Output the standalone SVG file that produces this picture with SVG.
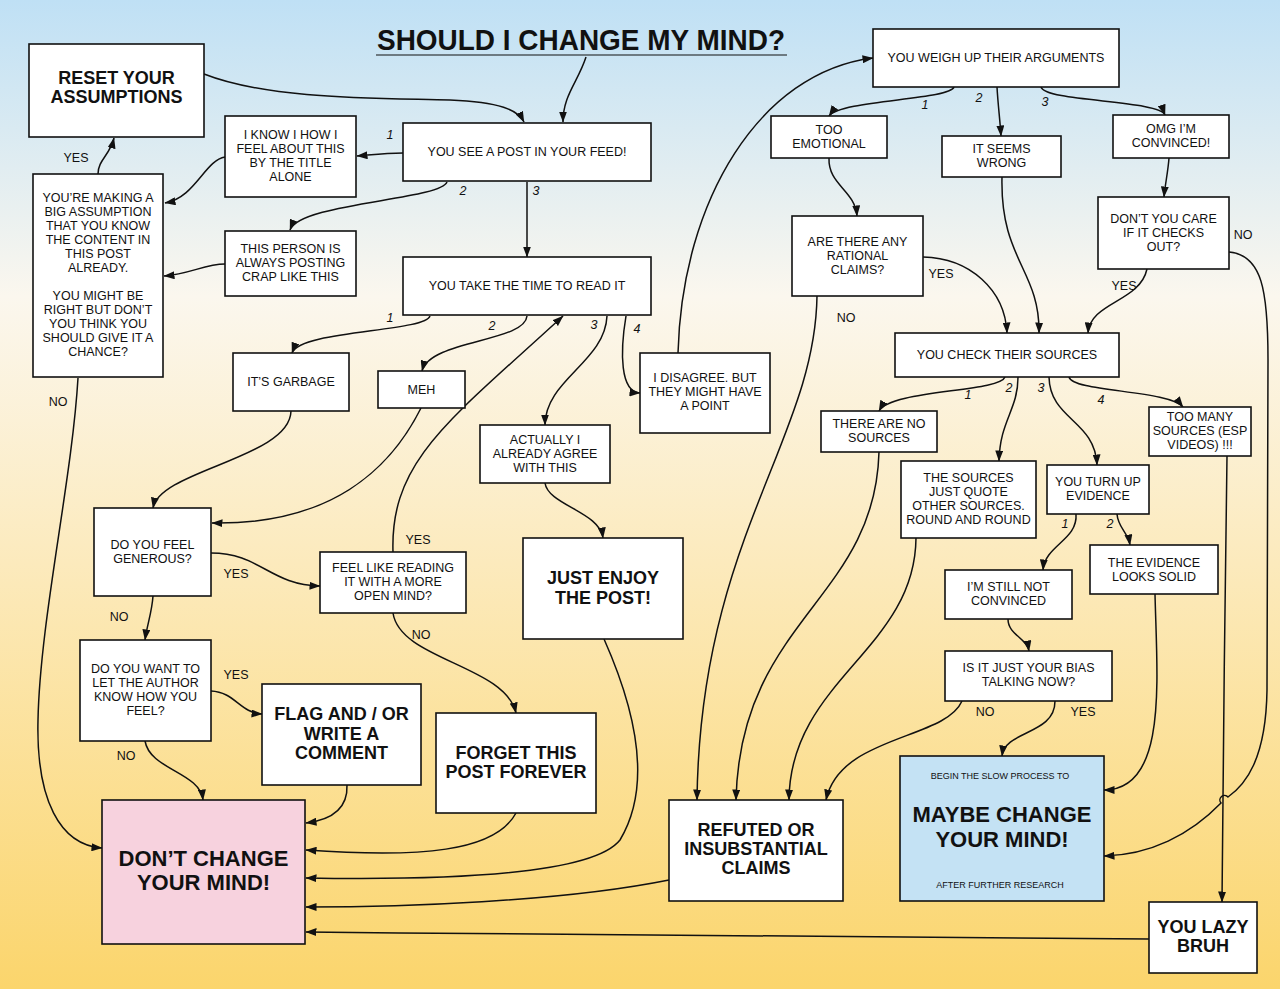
<svg xmlns="http://www.w3.org/2000/svg" width="1280" height="989" viewBox="0 0 1280 989">
<defs>
<linearGradient id="bg" x1="0" y1="0" x2="0" y2="1">
<stop offset="0" stop-color="#bfe0f5"/>
<stop offset="0.3" stop-color="#fbf7ee"/>
<stop offset="0.55" stop-color="#fcebc0"/>
<stop offset="1" stop-color="#fbd56c"/>
</linearGradient>
<marker id="ah" viewBox="0 0 11 8" refX="10.5" refY="4" markerWidth="11" markerHeight="8" markerUnits="userSpaceOnUse" orient="auto">
<path d="M0,0 L11,4 L0,8 Z" fill="#111"/>
</marker>
<style>
.box{fill:#fff;stroke:#111;stroke-width:1.6}
.t{font-family:"Liberation Sans",Arial,sans-serif;font-size:12.5px;fill:#111;text-anchor:middle}
.b{font-family:"Liberation Sans",Arial,sans-serif;font-size:18px;fill:#111;text-anchor:middle;font-weight:bold}
.xl{font-family:"Liberation Sans",Arial,sans-serif;font-size:22px;fill:#111;text-anchor:middle;font-weight:bold}
.s{font-family:"Liberation Sans",Arial,sans-serif;font-size:9px;fill:#111;text-anchor:middle}
.lbl{font-family:"Liberation Sans",Arial,sans-serif;font-size:12.5px;fill:#111;text-anchor:middle}
.num{font-family:"Liberation Sans",Arial,sans-serif;font-size:12.5px;fill:#111;text-anchor:middle;font-style:italic}
.c{fill:none;stroke:#111;stroke-width:1.5;marker-end:url(#ah)}
</style>
</defs>
<rect x="0" y="0" width="1280" height="989" fill="url(#bg)"/>

<g id="title">
<text x="581" y="50" font-family="Liberation Sans,Arial,sans-serif" font-size="30" font-weight="bold" text-anchor="middle" fill="#111" textLength="408" lengthAdjust="spacingAndGlyphs">SHOULD I CHANGE MY MIND?</text>
<line x1="376" y1="55" x2="787" y2="55" stroke="#111" stroke-width="1.2"/>
</g>

<g id="connectors">
<path class="c" d="M204,74 C270,100 380,98 450,100 C500,102 518,110 524,122"/>
<path class="c" d="M586,57 C578,82 563,95 563,122"/>
<path class="c" d="M403,153 C385,153 370,155 357,156"/>
<path class="c" d="M225,157 C205,160 195,198 165,203"/>
<path class="c" d="M447,182 C440,200 300,203 290,230"/>
<path class="c" d="M225,264 C205,264 190,274 164,276"/>
<path class="c" d="M527,182 L527,257"/>
<path class="c" d="M98,174 C98,160 110,155 114,138"/>
<path class="c" d="M78,378 C72,480 40,620 38,720 C36,800 60,845 102,848"/>
<path class="c" d="M430,316 C425,332 300,330 292,353"/>
<path class="c" d="M527,316 C525,342 430,340 422,371"/>
<path class="c" d="M393,552 C390,460 450,420 563,316"/>
<path class="c" d="M607,316 C605,362 545,380 545,425"/>
<path class="c" d="M626,316 C620,352 620,392 640,393"/>
<path class="c" d="M678,353 C682,200 760,72 873,58"/>
<path class="c" d="M291,411 C290,458 160,470 153,508"/>
<path class="c" d="M421,408 C390,470 330,525 212,523"/>
<path class="c" d="M211,553 C260,553 270,585 320,586"/>
<path class="c" d="M153,596 C152,612 147,625 145,640"/>
<path class="c" d="M545,483 C548,505 600,512 603,538"/>
<path class="c" d="M393,613 C400,660 505,665 516,713"/>
<path class="c" d="M211,691 C235,692 240,713 262,714"/>
<path class="c" d="M145,741 C150,770 200,772 203,800"/>
<path class="c" d="M347,785 C348,810 330,820 306,823"/>
<path class="c" d="M516,813 C495,852 420,858 306,850"/>
<path class="c" d="M604,639 C640,720 650,790 620,840 C590,878 420,880 306,878"/>
<path class="c" d="M669,880 C560,902 400,907 306,907"/>
<path class="c" d="M1149,939 C900,937 600,935 306,932"/>
<path class="c" d="M954,87 C950,100 840,100 829,116"/>
<path class="c" d="M997,87 C998,105 1000,120 1001,136"/>
<path class="c" d="M1041,87 C1045,102 1160,100 1165,115"/>
<path class="c" d="M829,158 C828,185 855,190 857,216"/>
<path class="c" d="M1002,177 C1000,260 1040,270 1039,333"/>
<path class="c" d="M923,257 C970,258 1005,290 1007,333"/>
<path class="c" d="M817,296 C815,440 700,540 697,800"/>
<path class="c" d="M1169,158 C1168,172 1165,185 1164,197"/>
<path class="c" d="M1147,269 C1140,302 1090,302 1088,333"/>
<path class="c" d="M1229,252 C1262,255 1268,290 1268,360 L1267,690 C1266,760 1245,785 1228,797 A4,4 0 0 0 1221,803 C1190,835 1150,855 1104,856"/>
<path class="c" d="M1005,377 C1000,392 890,390 879,411"/>
<path class="c" d="M1018,377 C1018,410 1000,420 999,461"/>
<path class="c" d="M1049,377 C1050,420 1095,420 1097,465"/>
<path class="c" d="M1069,377 C1072,392 1170,390 1183,407"/>
<path class="c" d="M879,452 C875,600 740,620 736,800"/>
<path class="c" d="M916,538 C915,650 790,680 789,800"/>
<path class="c" d="M962,701 C945,740 840,735 826,800"/>
<path class="c" d="M1076,514 C1078,540 1045,545 1043,570"/>
<path class="c" d="M1117,514 C1118,528 1128,532 1130,545"/>
<path class="c" d="M1008,619 C1008,635 1027,638 1029,651"/>
<path class="c" d="M1055,701 C1055,735 1005,730 1002,756"/>
<path class="c" d="M1155,594 C1157,680 1168,790 1104,790"/>
<path class="c" d="M1227,456 C1225,600 1223,760 1222,902"/>
</g>

<g id="edge-labels">
<text class="num" x="390" y="139">1</text>
<text class="num" x="463" y="195">2</text>
<text class="num" x="536" y="195">3</text>
<text class="lbl" x="76" y="162">YES</text>
<text class="lbl" x="58" y="406">NO</text>
<text class="num" x="390" y="322">1</text>
<text class="num" x="492" y="330">2</text>
<text class="num" x="594" y="329">3</text>
<text class="num" x="637" y="333">4</text>
<text class="lbl" x="418" y="544">YES</text>
<text class="lbl" x="421" y="639">NO</text>
<text class="lbl" x="236" y="578">YES</text>
<text class="lbl" x="119" y="621">NO</text>
<text class="lbl" x="236" y="679">YES</text>
<text class="lbl" x="126" y="760">NO</text>
<text class="num" x="925" y="109">1</text>
<text class="num" x="979" y="102">2</text>
<text class="num" x="1045" y="106">3</text>
<text class="lbl" x="941" y="278">YES</text>
<text class="lbl" x="846" y="322">NO</text>
<text class="lbl" x="1243" y="239">NO</text>
<text class="lbl" x="1124" y="290">YES</text>
<text class="num" x="968" y="399">1</text>
<text class="num" x="1009" y="392">2</text>
<text class="num" x="1041" y="392">3</text>
<text class="num" x="1101" y="404">4</text>
<text class="num" x="1065" y="528">1</text>
<text class="num" x="1110" y="528">2</text>
<text class="lbl" x="985" y="716">NO</text>
<text class="lbl" x="1083" y="716">YES</text>
</g>

<g id="n-reset"><rect class="box" x="29" y="44" width="175" height="93"/>
<text class="b" x="116.5" y="84">RESET YOUR</text><text class="b" x="116.5" y="103">ASSUMPTIONS</text></g>

<g id="n-iknow"><rect class="box" x="225" y="116" width="131" height="81"/>
<text class="t" x="290.5" y="138.5">I KNOW I HOW I</text><text class="t" x="290.5" y="152.5">FEEL ABOUT THIS</text><text class="t" x="290.5" y="166.5">BY THE TITLE</text><text class="t" x="290.5" y="180.5">ALONE</text></g>

<g id="n-seepost"><rect class="box" x="403" y="123" width="248" height="58"/>
<text class="t" x="527" y="155.5">YOU SEE A POST IN YOUR FEED!</text></g>

<g id="n-assumption"><rect class="box" x="33" y="174" width="130" height="203"/>
<text class="t" x="98" y="201.5">YOU’RE MAKING A</text><text class="t" x="98" y="215.5">BIG ASSUMPTION</text><text class="t" x="98" y="229.5">THAT YOU KNOW</text><text class="t" x="98" y="243.5">THE CONTENT IN</text><text class="t" x="98" y="257.5">THIS POST</text><text class="t" x="98" y="271.5">ALREADY.</text>
<text class="t" x="98" y="299.5">YOU MIGHT BE</text><text class="t" x="98" y="313.5">RIGHT BUT DON’T</text><text class="t" x="98" y="327.5">YOU THINK YOU</text><text class="t" x="98" y="341.5">SHOULD GIVE IT A</text><text class="t" x="98" y="355.5">CHANCE?</text></g>

<g id="n-thisperson"><rect class="box" x="225" y="231" width="131" height="65"/>
<text class="t" x="290.5" y="252.5">THIS PERSON IS</text><text class="t" x="290.5" y="266.5">ALWAYS POSTING</text><text class="t" x="290.5" y="280.5">CRAP LIKE THIS</text></g>

<g id="n-read"><rect class="box" x="403" y="257" width="248" height="58"/>
<text class="t" x="527" y="289.5">YOU TAKE THE TIME TO READ IT</text></g>

<g id="n-garbage"><rect class="box" x="233" y="353" width="116" height="58"/>
<text class="t" x="291" y="385.5">IT’S GARBAGE</text></g>

<g id="n-meh"><rect class="box" x="378" y="371" width="87" height="37"/>
<text class="t" x="421.5" y="393.5">MEH</text></g>

<g id="n-disagree"><rect class="box" x="640" y="353" width="130" height="80"/>
<text class="t" x="705" y="381.5">I DISAGREE. BUT</text><text class="t" x="705" y="395.5">THEY MIGHT HAVE</text><text class="t" x="705" y="409.5">A POINT</text></g>

<g id="n-agree"><rect class="box" x="480" y="425" width="130" height="58"/>
<text class="t" x="545" y="443.5">ACTUALLY I</text><text class="t" x="545" y="457.5">ALREADY AGREE</text><text class="t" x="545" y="471.5">WITH THIS</text></g>

<g id="n-generous"><rect class="box" x="94" y="508" width="117" height="88"/>
<text class="t" x="152.5" y="548.5">DO YOU FEEL</text><text class="t" x="152.5" y="562.5">GENEROUS?</text></g>

<g id="n-openmind"><rect class="box" x="320" y="552" width="146" height="61"/>
<text class="t" x="393" y="571.5">FEEL LIKE READING</text><text class="t" x="393" y="585.5">IT WITH A MORE</text><text class="t" x="393" y="599.5">OPEN MIND?</text></g>

<g id="n-enjoy"><rect class="box" x="523" y="538" width="160" height="101"/>
<text class="b" x="603" y="583.5">JUST ENJOY</text><text class="b" x="603" y="603.5">THE POST!</text></g>

<g id="n-letauthor"><rect class="box" x="80" y="640" width="131" height="101"/>
<text class="t" x="145.5" y="672.5">DO YOU WANT TO</text><text class="t" x="145.5" y="686.5">LET THE AUTHOR</text><text class="t" x="145.5" y="700.5">KNOW HOW YOU</text><text class="t" x="145.5" y="714.5">FEEL?</text></g>

<g id="n-flag"><rect class="box" x="262" y="684" width="159" height="101"/>
<text class="b" x="341.5" y="719.5">FLAG AND / OR</text><text class="b" x="341.5" y="739.5">WRITE A</text><text class="b" x="341.5" y="758.5">COMMENT</text></g>

<g id="n-forget"><rect class="box" x="436" y="713" width="160" height="100"/>
<text class="b" x="516" y="758.5">FORGET THIS</text><text class="b" x="516" y="777.5">POST FOREVER</text></g>

<g id="n-dontchange"><rect x="102" y="800" width="203" height="144" fill="#f7d2de" stroke="#111" stroke-width="1.6"/>
<text class="xl" x="203.5" y="866">DON’T CHANGE</text><text class="xl" x="203.5" y="890">YOUR MIND!</text></g>

<g id="n-weigh"><rect class="box" x="873" y="29" width="246" height="58"/>
<text class="t" x="996" y="61.5">YOU WEIGH UP THEIR ARGUMENTS</text></g>

<g id="n-emotional"><rect class="box" x="771" y="116" width="116" height="42"/>
<text class="t" x="829" y="133.5">TOO</text><text class="t" x="829" y="147.5">EMOTIONAL</text></g>

<g id="n-wrong"><rect class="box" x="942" y="136" width="119" height="41"/>
<text class="t" x="1001.5" y="152.5">IT SEEMS</text><text class="t" x="1001.5" y="166.5">WRONG</text></g>

<g id="n-convinced"><rect class="box" x="1113" y="115" width="116" height="43"/>
<text class="t" x="1171" y="132.5">OMG I’M</text><text class="t" x="1171" y="146.5">CONVINCED!</text></g>

<g id="n-rational"><rect class="box" x="792" y="216" width="131" height="80"/>
<text class="t" x="857.5" y="245.5">ARE THERE ANY</text><text class="t" x="857.5" y="259.5">RATIONAL</text><text class="t" x="857.5" y="273.5">CLAIMS?</text></g>

<g id="n-care"><rect class="box" x="1098" y="197" width="131" height="72"/>
<text class="t" x="1163.5" y="222.5">DON’T YOU CARE</text><text class="t" x="1163.5" y="236.5">IF IT CHECKS</text><text class="t" x="1163.5" y="250.5">OUT?</text></g>

<g id="n-sources"><rect class="box" x="895" y="333" width="224" height="44"/>
<text class="t" x="1007" y="358.5">YOU CHECK THEIR SOURCES</text></g>

<g id="n-nosources"><rect class="box" x="821" y="411" width="116" height="41"/>
<text class="t" x="879" y="427.5">THERE ARE NO</text><text class="t" x="879" y="441.5">SOURCES</text></g>

<g id="n-quote"><rect class="box" x="901" y="461" width="135" height="77"/>
<text class="t" x="968.5" y="481.5">THE SOURCES</text><text class="t" x="968.5" y="495.5">JUST QUOTE</text><text class="t" x="968.5" y="509.5">OTHER SOURCES.</text><text class="t" x="968.5" y="523.5">ROUND AND ROUND</text></g>

<g id="n-evidence"><rect class="box" x="1047" y="465" width="102" height="49"/>
<text class="t" x="1098" y="485.5">YOU TURN UP</text><text class="t" x="1098" y="499.5">EVIDENCE</text></g>

<g id="n-toomany"><rect class="box" x="1149" y="407" width="102" height="49"/>
<text class="t" x="1200" y="420.5">TOO MANY</text><text class="t" x="1200" y="434.5">SOURCES (ESP</text><text class="t" x="1200" y="448.5">VIDEOS) !!!</text></g>

<g id="n-solid"><rect class="box" x="1090" y="545" width="128" height="49"/>
<text class="t" x="1154" y="566.5">THE EVIDENCE</text><text class="t" x="1154" y="580.5">LOOKS SOLID</text></g>

<g id="n-notconvinced"><rect class="box" x="945" y="570" width="127" height="49"/>
<text class="t" x="1008.5" y="590.5">I’M STILL NOT</text><text class="t" x="1008.5" y="604.5">CONVINCED</text></g>

<g id="n-bias"><rect class="box" x="945" y="651" width="167" height="50"/>
<text class="t" x="1028.5" y="671.5">IS IT JUST YOUR BIAS</text><text class="t" x="1028.5" y="685.5">TALKING NOW?</text></g>

<g id="n-refuted"><rect class="box" x="669" y="800" width="174" height="101"/>
<text class="b" x="756" y="835.5">REFUTED OR</text><text class="b" x="756" y="854.5">INSUBSTANTIAL</text><text class="b" x="756" y="873.5">CLAIMS</text></g>

<g id="n-maybe"><rect x="900" y="756" width="204" height="145" fill="#c4e2f4" stroke="#111" stroke-width="1.6"/>
<text class="s" x="1000" y="779">BEGIN THE SLOW PROCESS TO</text>
<text class="xl" x="1002" y="822">MAYBE CHANGE</text><text class="xl" x="1002" y="847">YOUR MIND!</text>
<text class="s" x="1000" y="888">AFTER FURTHER RESEARCH</text></g>

<g id="n-lazy"><rect class="box" x="1149" y="902" width="108" height="71"/>
<text class="b" x="1203" y="932.5">YOU LAZY</text><text class="b" x="1203" y="951.5">BRUH</text></g>
</svg>
